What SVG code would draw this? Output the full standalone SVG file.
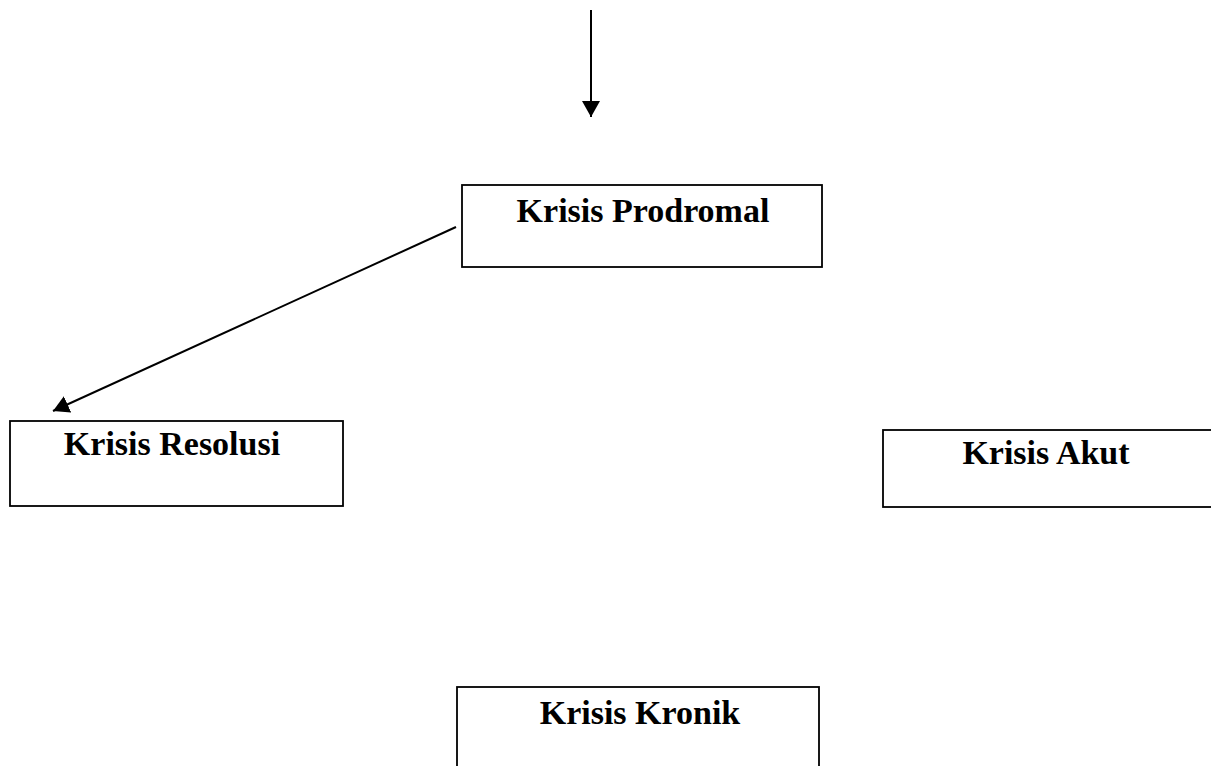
<svg xmlns="http://www.w3.org/2000/svg" width="1211" height="766" viewBox="0 0 1211 766">
<style>
.box{fill:#fff;stroke:#000;stroke-width:1.8}
.lbl{font-family:"Liberation Serif","Times New Roman",serif;font-weight:bold;font-size:34px;fill:#000;text-anchor:middle}
.conn{stroke:#000;stroke-width:2;fill:none}
</style>
<defs>
<marker id="ah2" viewBox="0 0 16 18" refX="16" refY="9" markerWidth="16" markerHeight="18" markerUnits="userSpaceOnUse" orient="auto">
<path d="M0,0 L16,9 L0,18 z" fill="#000"/>
</marker>
</defs>
<rect width="1211" height="766" fill="#fff"/>
<g id="connectors">
<line class="conn" x1="591" y1="10" x2="591" y2="117" marker-end="url(#ah2)"/>
<line class="conn" x1="456" y1="227" x2="53" y2="411" marker-end="url(#ah2)"/>
</g>
<g id="node-prodromal">
<rect class="box" x="462" y="185" width="360" height="82"/>
<text class="lbl" x="643" y="222">Krisis Prodromal</text>
</g>
<g id="node-resolusi">
<rect class="box" x="10" y="421" width="333" height="85"/>
<text class="lbl" x="172" y="455">Krisis Resolusi</text>
</g>
<g id="node-akut">
<rect class="box" x="883" y="430" width="340" height="77"/>
<text class="lbl" x="1046" y="464">Krisis Akut</text>
</g>
<g id="node-kronik">
<rect class="box" x="457" y="687" width="362" height="90"/>
<text class="lbl" x="640" y="724">Krisis Kronik</text>
</g>
</svg>
